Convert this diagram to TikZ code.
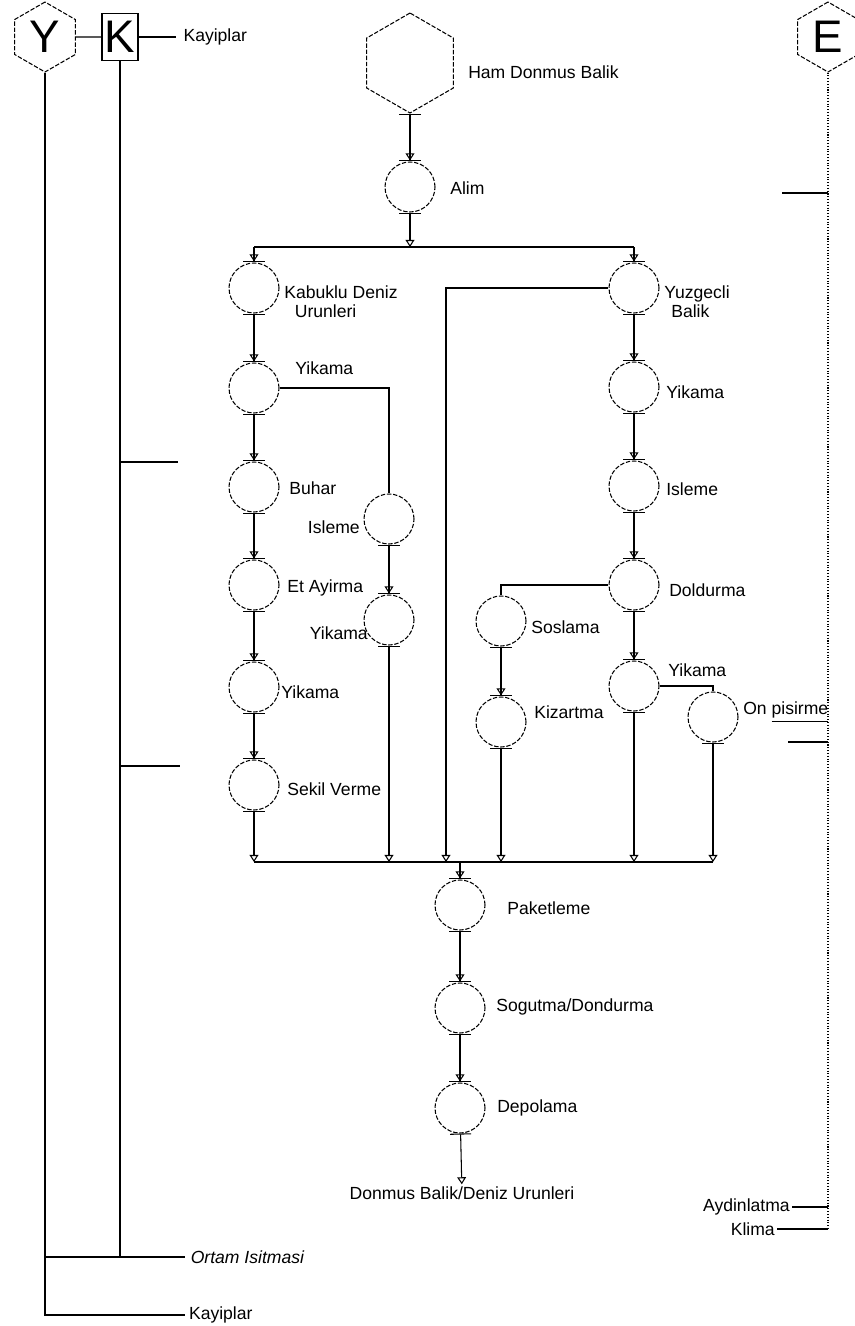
\documentclass[tikz,border=0pt]{standalone}
\usepackage{fontspec}
\setmainfont{Liberation Sans}
\usetikzlibrary{shapes.geometric,arrows.meta}
\begin{document}
\begin{tikzpicture}[x=0.02cm, y=-0.02cm, line width=0.6pt,
  proc/.style={circle, draw, dash pattern=on 2.5pt off 1pt, minimum size=1cm, inner sep=0pt},
  hexa/.style={regular polygon, regular polygon sides=6, shape border rotate=30, draw, dash pattern=on 2.5pt off 1pt, inner sep=0pt},
  lbl/.style={anchor=west, inner sep=1pt, font=\fontsize{10}{11}\selectfont},
  lblr/.style={lbl, anchor=east},
  big/.style={font=\fontsize{26}{26}\selectfont},
  flow/.style={arrows={{Bar[width=12pt]}-{Triangle[open,width=5pt,length=4pt]Bar[width=12pt]}}},
  drop/.style={arrows={{Bar[width=12pt]}-{Triangle[open,width=5pt,length=4pt]}}},
  feed/.style={arrows={-{Triangle[open,width=5pt,length=4pt]Bar[width=12pt]}}},
  tocl/.style={arrows={-{Triangle[open,width=5pt,length=4pt]}}}]
\useasboundingbox (0,0) rectangle (855,1326);

\node[hexa, minimum size=1.4cm, big] (yh) at (45,37) {Y};
\node[draw, minimum width=0.72cm, minimum height=0.94cm, inner sep=0pt, big] (kb) at (120,37) {K};
\node[lbl, inner xsep=4pt] (kay1) at (176,37) {Kayiplar};
\node[lbl, inner xsep=3pt, font=\fontsize{10}{11}\selectfont\itshape] (orta) at (185,1257) {Ortam Isitmasi};
\node[lbl, inner xsep=2pt] (kay2) at (185,1315) {Kayiplar};
\coordinate (kt1) at (178,462);
\coordinate (kt2) at (180,766);
\draw (yh.east) -- (kb.west);
\draw (kb.east) -- (kay1.west);
\draw (kb.south) -- (kb.south |- orta.west);
\draw (yh.south |- orta.west) -- (orta.west);
\draw (yh.south) |- (kay2.west);
\draw (kb.south |- kt1) -- (kt1);
\draw (kb.south |- kt2) -- (kt2);

\node[hexa, minimum size=1.4cm, big] (eh) at (828,37) {E};
\node[lblr] (ayd) at (792,1207) {Aydinlatma};
\node[lblr] (kli) at (777,1229) {Klima};
\coordinate (et1) at (782,193);
\coordinate (et2) at (788,742);
\draw[densely dotted] (eh.south) -- (eh.south |- kli.east);
\draw (et1) -- (eh.south |- et1);
\draw (et2) -- (eh.south |- et2);
\draw (ayd.east) -- (eh.south |- ayd.east);
\draw (kli.east) -- (eh.south |- kli.east);

\node[hexa, minimum size=2cm] (hamb) at (410,63) {};
\node[lbl] (hambl) at (466,72) {Ham Donmus Balik};
\node[proc] (alim) at (410,187) {};
\node[lbl] (aliml) at (448,188) {Alim};
\coordinate (sp) at (410,247);

\node[proc] (kab) at (254,288) {};
\node[lbl, align=left] (kabl) at (282,302) {Kabuklu Deniz\\\hspace*{0.6em}Urunleri};
\node[proc] (ykL1) at (254,388) {};
\node[lbl] (ykL1l) at (293,368) {Yikama};
\node[proc] (buhar) at (254,487) {};
\node[lbl] (buharl) at (287,488) {Buhar};
\node[proc] (etay) at (254,585) {};
\node[lbl] (etayl) at (285,588) {Et Ayirma};
\node[proc] (ykL2) at (254,687) {};
\node[lbl] (ykL2l) at (279,692) {Yikama};
\node[proc] (sekil) at (254,785) {};
\node[lbl] (sekill) at (285,789) {Sekil Verme};

\node[proc] (islL) at (389,519) {};
\node[lblr] (islLl) at (362,527) {Isleme};
\node[proc] (ykL3) at (389,620) {};
\node[lblr] (ykL3l) at (370,633) {Yikama};

\node[proc] (yuz) at (634,288) {};
\node[lbl, align=left] (yuzl) at (662,302) {Yuzgecli\\\hspace*{0.4em}Balik};
\node[proc] (ykR1) at (634,387) {};
\node[lbl] (ykR1l) at (664,392) {Yikama};
\node[proc] (islR) at (634,486) {};
\node[lbl] (islRl) at (664,489) {Isleme};
\node[proc] (dold) at (634,585) {};
\node[lbl] (doldl) at (667,590) {Doldurma};
\node[proc] (sos) at (501,621) {};
\node[lbl] (sosl) at (529,627) {Soslama};
\node[proc] (kiz) at (501,722) {};
\node[lbl] (kizl) at (532,712) {Kizartma};
\node[proc] (ykR2) at (634,686) {};
\node[lbl] (ykR2l) at (666,670) {Yikama};
\node[proc] (onp) at (713,717) {};
\node[lbl] (onpl) at (741,712) {On \underline{pisirme}};

\coordinate (cl) at (460,862);
\coordinate (wf) at (446,862);
\node[proc] (pak) at (460,905) {};
\node[lbl] (pakl) at (505,908) {Paketleme};
\node[proc] (sog) at (460,1008) {};
\node[lbl] (sogl) at (494,1007) {Sogutma/Dondurma};
\node[proc] (dep) at (460,1108) {};
\node[lbl] (depl) at (495,1108) {Depolama};
\node[inner sep=1pt, font=\fontsize{10}{11}\selectfont] (prod) at (462,1193) {Donmus Balik/Deniz Urunleri};

\draw[flow] (hamb) -- (alim);
\draw[drop] (alim) -- (sp);
\draw (kab |- sp) -- (yuz |- sp);
\draw[feed] (kab |- sp) -- (kab);
\draw[feed] (yuz |- sp) -- (yuz);
\draw[flow] (kab) -- (ykL1);
\draw[flow] (ykL1) -- (buhar);
\draw[flow] (buhar) -- (etay);
\draw[flow] (etay) -- (ykL2);
\draw[flow] (ykL2) -- (sekil);
\draw (ykL1.east) -| (islL.north);
\draw[flow] (islL) -- (ykL3);
\draw[flow] (yuz) -- (ykR1);
\draw[flow] (ykR1) -- (islR);
\draw[flow] (islR) -- (dold);
\draw[flow] (dold) -- (ykR2);
\draw (dold.west) -| (sos.north);
\draw[flow] (sos) -- (kiz);
\draw (ykR2.east) -| (onp.north);
\draw[tocl] (yuz.west) -| (wf);
\draw (sekil |- cl) -- (onp |- cl);
\draw[drop] (sekil) -- (sekil |- cl);
\draw[drop] (ykL3) -- (ykL3 |- cl);
\draw[drop] (kiz) -- (kiz |- cl);
\draw[drop] (ykR2) -- (ykR2 |- cl);
\draw[drop] (onp) -- (onp |- cl);
\draw[feed] (cl) -- (pak);
\draw[flow] (pak) -- (sog);
\draw[flow] (sog) -- (dep);
\draw[drop] (dep) -- (prod);
\end{tikzpicture}
\end{document}
